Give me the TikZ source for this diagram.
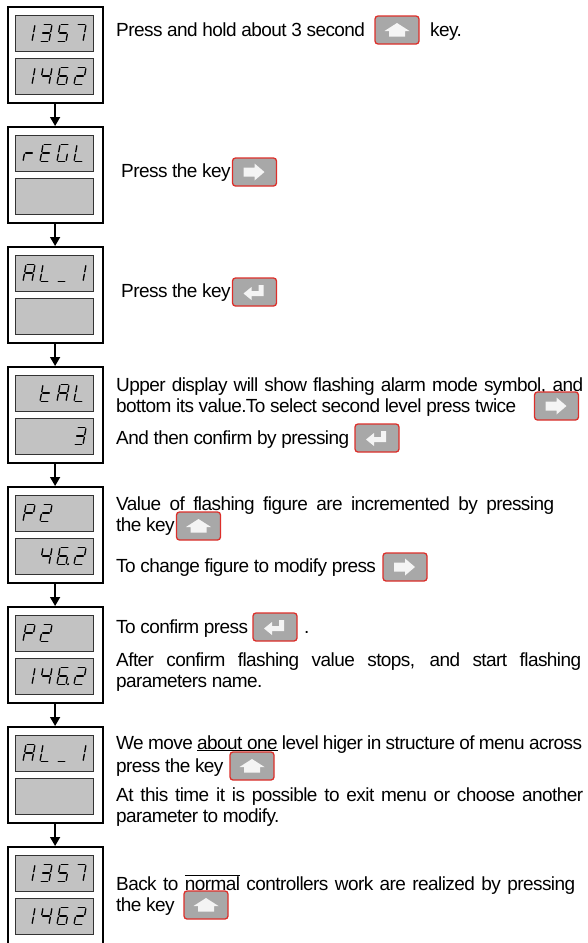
\documentclass[tikz,border=0pt]{standalone}
\usepackage{fontspec}
\setmainfont{Liberation Sans}[LetterSpace=-3]
\usetikzlibrary{arrows.meta}
\definecolor{dispgray}{HTML}{C2C2C2}
\definecolor{keygray}{HTML}{A8A8A8}
\definecolor{keyred}{HTML}{DC2F2A}
\definecolor{iconwhite}{HTML}{F4F4F4}
\tikzset{
  blockbox/.style={draw=black, line width=2.2pt, fill=white, minimum width=95pt, minimum height=96pt, inner sep=0pt, anchor=north west},
  disp/.style={draw=black!80, line width=0.9pt, fill=dispgray, minimum width=78pt, minimum height=36pt, inner sep=0pt, anchor=north west},
  segl/.style={line width=1.3pt, line cap=round, black},
  flow/.style={line width=1.5pt, -{Triangle[width=10pt,length=9pt]}},
  txt/.style={anchor=base west, inner sep=0pt, font=\fontsize{19}{21.5}\selectfont},
  keybox/.style={draw=keyred, fill=keygray, line width=1.3pt, rounded corners=3pt, minimum width=44pt, minimum height=28pt, inner sep=0pt},
  upkey/.pic={\node[keybox] (-k) at (0,0) {};
    \fill[iconwhite] (-12.5,1) -- (0,-7) -- (12.5,1) -- (8,1) -- (8,6.5) -- (-8,6.5) -- (-8,1) -- cycle;},
  rightkey/.pic={\node[keybox] (-k) at (0,0) {};
    \fill[iconwhite] (-11,-4.5) -- (0,-4.5) -- (0,-8.5) -- (10,0) -- (0,8.5) -- (0,4.5) -- (-11,4.5) -- cycle;},
  enterkey/.pic={\node[keybox] (-k) at (0,0) {};
    \fill[iconwhite] (4,-7) -- (9,-7) -- (9,4) -- (-3,4) -- (-3,8) -- (-11,1.5) -- (-3,-5) -- (-3,-1) -- (4,-1) -- cycle;},
}
\def\svsga{\draw[segl] (1.2,17) -- (7.8,17);}
\def\svsgb{\draw[segl] (9,15.8) -- (9,9.7);}
\def\svsgc{\draw[segl] (9,7.3) -- (9,1.2);}
\def\svsgd{\draw[segl] (1.2,0) -- (7.8,0);}
\def\svsge{\draw[segl] (0,1.2) -- (0,7.3);}
\def\svsgf{\draw[segl] (0,9.7) -- (0,15.8);}
\def\svsgg{\draw[segl] (1.2,8.5) -- (7.8,8.5);}
\def\svsgp{\fill (11,0.3) circle (1.1);}
\newcommand\glyph[3]{%
  \begin{scope}[shift={({23+17*(#1-1)},#2)}, xslant=0.18, yscale=-1]
    \foreach \s in {#3}{\csname svsg\s\endcsname}
  \end{scope}}
\newcommand\blk[3][96]{%
  \node[blockbox, minimum height=#1pt] (#2) at (6.5,#3) {};
  \node[disp] (#2t) at (15,{#3+9}) {};
  \node[disp] (#2b) at (15,{#3+52}) {};}
\begin{document}
\begin{tikzpicture}[x=1pt,y=-1pt]
\fill[white] (0,0) rectangle (587,943);
\useasboundingbox (0,0) rectangle (587,943);
% blocks
\blk{b1}{6}
\blk{b2}{126}
\blk{b3}{246}
\blk{b4}{366}
\blk{b5}{486}
\blk{b6}{606}
\blk{b7}{726}
\blk[102]{b8}{846}
% arrows
\draw[flow] (b1.south) -- (b2.north);
\draw[flow] (b2.south) -- (b3.north);
\draw[flow] (b3.south) -- (b4.north);
\draw[flow] (b4.south) -- (b5.north);
\draw[flow] (b5.south) -- (b6.north);
\draw[flow] (b6.south) -- (b7.north);
\draw[flow] (b7.south) -- (b8.north);
% glyphs block 1: 1357 / 1462
\glyph{1}{41.5}{b,c}\glyph{2}{41.5}{a,b,g,c,d}\glyph{3}{41.5}{a,f,g,c,d}\glyph{4}{41.5}{a,b,c}
\glyph{1}{84.5}{b,c}\glyph{2}{84.5}{f,g,b,c}\glyph{3}{84.5}{a,f,g,e,c,d}\glyph{4}{84.5}{a,b,g,e,d}
% block 2: rEGL
\glyph{1}{161.5}{e,g}\glyph{2}{161.5}{a,f,g,e,d}\glyph{3}{161.5}{a,f,e,d,c}\glyph{4}{161.5}{f,e,d}
% block 3: AL_1
\glyph{1}{281.5}{a,b,c,e,f,g}\glyph{2}{281.5}{f,e,d}\glyph{3}{281.5}{d}\glyph{4}{281.5}{b,c}
% block 4: tAL / 3
\glyph{2}{401.5}{f,g,e,d}\glyph{3}{401.5}{a,b,c,e,f,g}\glyph{4}{401.5}{f,e,d}
\glyph{4}{444.5}{a,b,g,c,d}
% block 5: P2 / 46.2
\glyph{1}{521.5}{a,b,f,g,e}\glyph{2}{521.5}{a,b,g,e,d}
\glyph{2}{564.5}{f,g,b,c}\glyph{3}{564.5}{a,f,g,e,c,d,p}\glyph{4}{564.5}{a,b,g,e,d}
% block 6: P2 / 146.2
\glyph{1}{641.5}{a,b,f,g,e}\glyph{2}{641.5}{a,b,g,e,d}
\glyph{1}{684.5}{b,c}\glyph{2}{684.5}{f,g,b,c}\glyph{3}{684.5}{a,f,g,e,c,d,p}\glyph{4}{684.5}{a,b,g,e,d}
% block 7: AL_1
\glyph{1}{761.5}{a,b,c,e,f,g}\glyph{2}{761.5}{f,e,d}\glyph{3}{761.5}{d}\glyph{4}{761.5}{b,c}
% block 8: 1357 / 1462
\glyph{1}{881.5}{b,c}\glyph{2}{881.5}{a,b,g,c,d}\glyph{3}{881.5}{a,f,g,c,d}\glyph{4}{881.5}{a,b,c}
\glyph{1}{924.5}{b,c}\glyph{2}{924.5}{f,g,b,c}\glyph{3}{924.5}{a,f,g,e,c,d}\glyph{4}{924.5}{a,b,g,e,d}
% texts block 1
\node[txt] (t1) at (116,36) {Press and hold about 3 second};
\pic (k1) at (397,30) {upkey};
\node[txt] (t1b) at (430,36) {key.};
% block 2
\node[txt] (t2) at (121,177) {Press the key};
\pic (k2) at (254.5,172) {rightkey};
% block 3
\node[txt] (t3) at (121,297) {Press the key};
\pic (k3) at (254.5,292) {enterkey};
% block 4
\node[txt] (t4a) at (116,391) {\makebox[467pt][s]{Upper display will show flashing alarm mode symbol, and}};
\node[txt] (t4b) at (116,412) {bottom its value.To select second level press twice};
\pic (k4a) at (556.5,406) {rightkey};
\node[txt] (t4c) at (116,444) {And then confirm by pressing};
\pic (k4b) at (377,438) {enterkey};
% block 5
\node[txt] (t5a) at (116,510) {\makebox[438pt][s]{Value of flashing figure are incremented by pressing}};
\node[txt] (t5b) at (116,531) {the key};
\pic (k5a) at (198.5,526) {upkey};
\node[txt] (t5c) at (116,572) {To change figure to modify press};
\pic (k5b) at (405,567) {rightkey};
% block 6
\node[txt] (t6a) at (116,633) {To confirm press};
\pic (k6) at (275,627) {enterkey};
\node[txt] (t6dot) at (304,633) {.};
\node[txt] (t6b) at (116,666) {\makebox[465pt][s]{After confirm flashing value stops, and start flashing}};
\node[txt] (t6c) at (116,687) {parameters name.};
% block 7
\node[txt] (t7a) at (116,749) {\makebox[466pt][s]{We move \underline{about one} level higer in structure of menu across}};
\node[txt] (t7b) at (116,772) {press the key};
\pic (k7) at (252,766) {upkey};
\node[txt] (t7c) at (116,801) {\makebox[467pt][s]{At this time it is possible to exit menu or choose another}};
\node[txt] (t7d) at (116,822) {parameter to modify.};
% block 8
\node[txt] (t8a) at (116,890) {\makebox[459pt][s]{Back to $\overline{\hbox{normal}}$ controllers work are realized by pressing}};
\node[txt] (t8b) at (116,911) {the key};
\pic (k8) at (206,905) {upkey};
\end{tikzpicture}
\end{document}
